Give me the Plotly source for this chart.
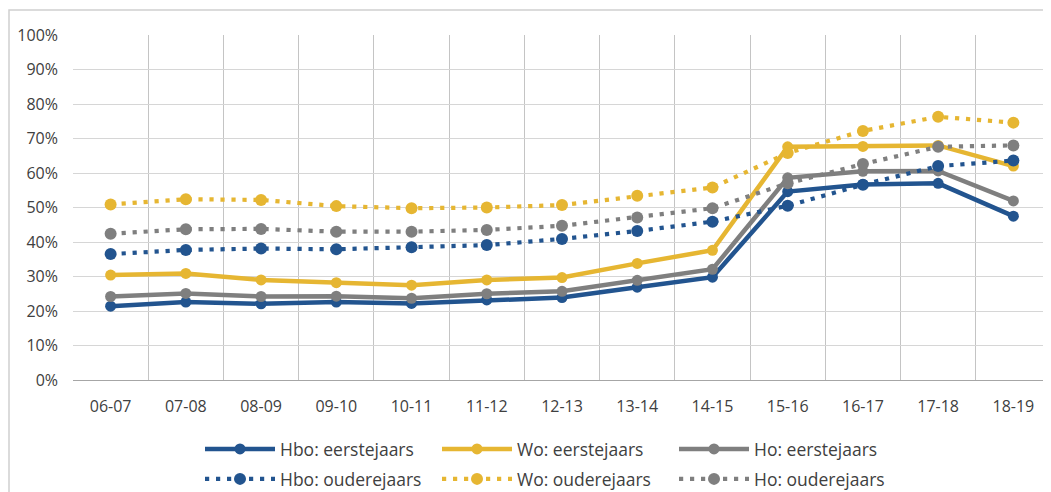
import plotly.graph_objects as go

years = ["06-07", "07-08", "08-09", "09-10", "10-11", "11-12", "12-13",
         "13-14", "14-15", "15-16", "16-17", "17-18", "18-19"]

hbo_eerste = [21.4, 22.6, 22.1, 22.6, 22.2, 23.2, 23.9, 26.9, 29.8, 54.6, 56.7, 57.0, 47.5]
wo_eerste = [30.4, 30.9, 29.0, 28.2, 27.5, 29.0, 29.7, 33.8, 37.6, 67.6, 67.7, 68.0, 62.0]
ho_eerste = [24.2, 25.1, 24.2, 24.3, 23.7, 25.0, 25.7, 28.9, 32.1, 58.6, 60.5, 60.6, 51.9]
hbo_oudere = [36.5, 37.7, 38.1, 37.9, 38.5, 39.1, 40.9, 43.2, 45.9, 50.5, 56.6, 62.0, 63.6]
wo_oudere = [50.9, 52.4, 52.2, 50.4, 49.8, 50.0, 50.7, 53.4, 55.8, 65.8, 72.2, 76.3, 74.6]
ho_oudere = [42.4, 43.7, 43.8, 43.0, 43.0, 43.5, 44.7, 47.1, 49.8, 57.0, 62.6, 67.6, 68.0]

names_eerste = ["Hbo: eerstejaars", "Wo: eerstejaars", "Ho: eerstejaars"]
names_oudere = ["Hbo: ouderejaars", "Wo: ouderejaars", "Ho: ouderejaars"]

BLUE = "#22548f"
YELLOW = "#e6b632"
GREY = "#7f7f7f"
colors = [BLUE, YELLOW, GREY]

fig = go.Figure()

for name, vals, col in zip(names_eerste, [hbo_eerste, wo_eerste, ho_eerste], colors):
    fig.add_trace(go.Scatter(
        x=years, y=vals, name=name, mode="lines+markers",
        line=dict(color=col, width=4.5),
        marker=dict(color=col, size=11),
        legend="legend",
    ))

for name, vals, col in zip(names_oudere, [hbo_oudere, wo_oudere, ho_oudere], colors):
    fig.add_trace(go.Scatter(
        x=years, y=vals, name=name, mode="lines+markers",
        line=dict(color=col, width=4.2, dash="4.2px,6.8px"),
        marker=dict(color=col, size=12),
        legend="legend2",
    ))

font_family = "Open Sans"

# page body has an 8px margin; figure is sized to fit inside the window
W, H = 1043, 484
L, T, B = 65, 27, 112
PW, PH = W - L, H - T - B

legend_common = dict(
    orientation="h",
    xref="container", yref="container",
    xanchor="left", yanchor="middle",
    x=192 / W,
    font=dict(family=font_family, size=17.5, color="#404040"),
    bgcolor="rgba(0,0,0,0)",
    entrywidth=152,
    itemwidth=70,
    tracegroupgap=0,
)

fig.update_layout(
    width=W, height=H,
    margin=dict(l=L, r=0, t=T, b=B, pad=0, autoexpand=False),
    paper_bgcolor="white", plot_bgcolor="white",
    font=dict(family=font_family, size=16, color="#404040"),
    showlegend=True,
    legend=dict(y=(H - 441) / H, **legend_common),
    legend2=dict(y=(H - 471) / H, **legend_common),
    xaxis=dict(
        type="category",
        tickson="boundaries",
        showgrid=True, gridcolor="#c4c4c4", gridwidth=1,
        showline=True, linecolor="#a6a6a6", linewidth=1,
        ticks="", ticklen=0,
        ticklabelstandoff=12,
        tickfont=dict(family=font_family, size=16, color="#404040"),
        range=[-0.5, 12.5],
        fixedrange=True,
    ),
    yaxis=dict(
        range=[0, 100],
        dtick=10,
        ticksuffix="%",
        showgrid=True, gridcolor="#d6d6d6", gridwidth=1,
        zeroline=False,
        showline=False,
        ticks="",
        ticklabelstandoff=14,
        tickfont=dict(family=font_family, size=16, color="#404040"),
        fixedrange=True,
    ),
    shapes=[dict(
        type="rect", xref="paper", yref="paper",
        x0=(1 - L) / PW, x1=1.02, y0=-0.45, y1=(PH + T - 2) / PH,
        line=dict(color="#d0d0d0", width=1.5), fillcolor="rgba(0,0,0,0)",
        layer="below",
    )],
)

fig.write_html("out.html")
